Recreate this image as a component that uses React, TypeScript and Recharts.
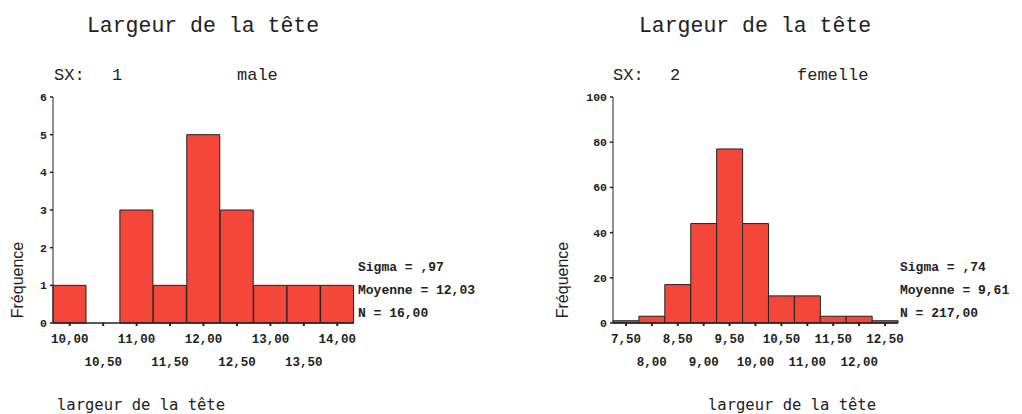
import { Bar, BarChart, XAxis, YAxis } from "recharts";

// SX 1 (male)
const maleBins = ["10,00", "10,50", "11,00", "11,50", "12,00", "12,50", "13,00", "13,50", "14,00"];
const maleCounts = [1, 0, 3, 1, 5, 3, 1, 1, 1];
const maleTicks = [0, 1, 2, 3, 4, 5, 6];
const maleStats = ["Sigma = ,97", "Moyenne = 12,03", "N = 16,00"];

// SX 2 (femelle)
const femaleBins = ["7,50", "8,00", "8,50", "9,00", "9,50", "10,00", "10,50", "11,00", "11,50", "12,00", "12,50"];
const femaleCounts = [1, 3, 17, 44, 77, 44, 12, 12, 3, 3, 1];
const femaleTicks = [0, 20, 40, 60, 80, 100];
const femaleStats = ["Sigma = ,74", "Moyenne = 9,61", "N = 217,00"];

const title = "Largeur de la tête";
const xLabel = "largeur de la tête";
const yLabel = "Fréquence";

const RED = "#f4473a";
const INK = "#222";
const MONO = "'Liberation Mono', monospace";

const toRows = (bins: string[], counts: number[]) =>
    bins.map((bin, i) => ({ bin, count: counts[i] }));

function TwoRowTick(props: any) {
    const { x, y, payload, index } = props;
    const dy = index % 2 === 0 ? 15 : 38;
    return (
        <text
            x={x}
            y={y + dy}
            textAnchor='middle'
            fontFamily={MONO}
            fontWeight='bold'
            fontSize={12.5}
            fill={INK}
        >
            {payload.value}
        </text>
    );
}

function Histogram({
    bins,
    counts,
    ticks,
    width,
    axisWidth,
    right,
}: {
    bins: string[];
    counts: number[];
    ticks: number[];
    width: number;
    axisWidth: number;
    right: number;
}) {
    const data = toRows(bins, counts);
    const max = ticks[ticks.length - 1];
    return (
        <BarChart
            width={width}
            height={414}
            data={data}
            barCategoryGap={0}
            margin={{ top: 97, right: right, bottom: 0, left: 0 }}
        >
            <XAxis
                dataKey='bin'
                interval={0}
                height={91}
                tickSize={3}
                tickLine={{ stroke: INK, strokeWidth: 2 }}
                axisLine={{ stroke: INK, strokeWidth: 1.5 }}
                tick={<TwoRowTick />}
            />
            <XAxis
                xAxisId='top'
                orientation='top'
                dataKey='bin'
                height={0}
                tick={false}
                tickLine={false}
                axisLine={{ stroke: INK }}
            />
            <YAxis
                domain={[0, max]}
                ticks={ticks}
                interval={0}
                width={axisWidth}
                tickSize={3}
                tickMargin={3}
                tickLine={{ stroke: INK, strokeWidth: 1.5 }}
                axisLine={{ stroke: INK }}
                tick={{ fontFamily: MONO, fontWeight: "bold", fontSize: 11.5, fill: INK }}
            />
            <YAxis
                yAxisId='right'
                orientation='right'
                domain={[0, max]}
                width={0}
                tick={false}
                tickLine={false}
                axisLine={{ stroke: INK }}
            />
            <Bar
                dataKey='count'
                fill={RED}
                stroke={INK}
                strokeWidth={1}
                isAnimationActive={false}
            />
        </BarChart>
    );
}

function Labels({
    cx,
    left,
    num,
    numX,
    sex,
    sexX,
    stats,
    statsX,
    yLabelX,
    xLabelX,
}: {
    cx: number;
    left: number;
    num: string;
    numX: number;
    sex: string;
    sexX: number;
    stats: string[];
    statsX: number;
    yLabelX: number;
    xLabelX: number;
}) {
    return (
        <g fill={INK}>
            <text x={cx} y={32} textAnchor='middle' fontFamily={MONO} fontSize={21.5}>
                {title}
            </text>
            <text x={left} y={80} fontFamily={MONO} fontSize={17}>
                SX:
            </text>
            <text x={numX} y={80} fontFamily={MONO} fontSize={17}>
                {num}
            </text>
            <text x={sexX} y={80} fontFamily={MONO} fontSize={17}>
                {sex}
            </text>
            {stats.map((s, i) => (
                <text
                    key={s}
                    x={statsX}
                    y={271 + i * 23}
                    fontFamily={MONO}
                    fontWeight='bold'
                    fontSize={13}
                >
                    {s}
                </text>
            ))}
            <text
                transform={`translate(${yLabelX},280) rotate(-90)`}
                textAnchor='middle'
                fontFamily="'Liberation Sans', sans-serif"
                fontSize={16}
            >
                {yLabel}
            </text>
            <text
                x={xLabelX}
                y={410}
                fontFamily="'DejaVu Sans Mono', monospace"
                fontSize={15.5}
            >
                {xLabel}
            </text>
        </g>
    );
}

export default function App() {
    return (
        <div
            style={{
                position: "absolute",
                left: 0,
                top: 0,
                width: 1022,
                height: 414,
                background: "#fff",
                overflow: "hidden",
            }}
        >
            <div style={{ position: "absolute", left: 0, top: 0 }}>
                <Histogram
                    bins={maleBins}
                    counts={maleCounts}
                    ticks={maleTicks}
                    width={511}
                    axisWidth={53}
                    right={511 - 354}
                />
            </div>
            <div style={{ position: "absolute", left: 511, top: 0 }}>
                <Histogram
                    bins={femaleBins}
                    counts={femaleCounts}
                    ticks={femaleTicks}
                    width={511}
                    axisWidth={613 - 511}
                    right={1022 - 898}
                />
            </div>
            <svg
                width={1022}
                height={414}
                style={{ position: "absolute", left: 0, top: 0, pointerEvents: "none" }}
            >
                <Labels
                    cx={203}
                    left={54}
                    num='1'
                    numX={112}
                    sex='male'
                    sexX={237}
                    stats={maleStats}
                    statsX={358}
                    yLabelX={23}
                    xLabelX={57}
                />
                <Labels
                    cx={755}
                    left={613}
                    num='2'
                    numX={670}
                    sex='femelle'
                    sexX={797}
                    stats={femaleStats}
                    statsX={900}
                    yLabelX={568}
                    xLabelX={708}
                />
            </svg>
        </div>
    );
}
